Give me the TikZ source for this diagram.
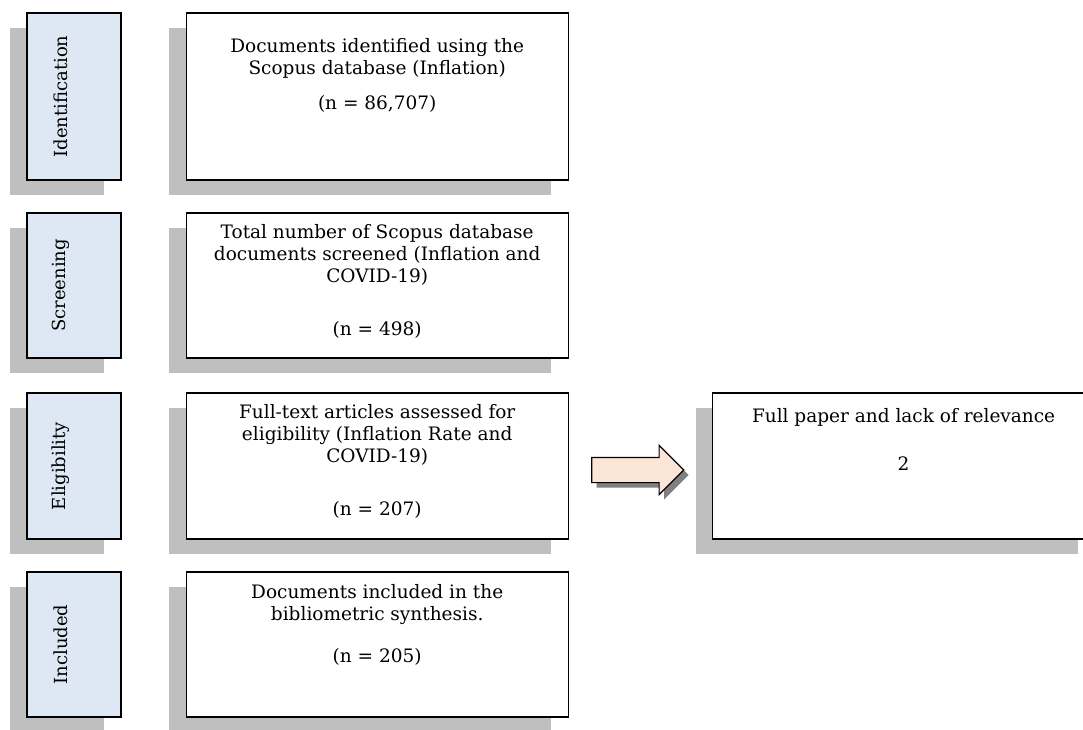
\documentclass[tikz,border=0pt]{standalone}
\usepackage{graphicx}
\usepackage{fontspec}
\setmainfont{DejaVu Serif}
\usepackage{tikz}
\usetikzlibrary{shapes.arrows,shadows,positioning,calc}
\definecolor{stageblue}{HTML}{DDE8F4}
\definecolor{shadowgray}{HTML}{BFBFBF}
\definecolor{arrowpeach}{HTML}{FBE5D6}
\definecolor{arrowshadow}{HTML}{808080}
\newcommand{\stagename}[1]{\rotatebox{90}{#1}\hspace*{26pt}}

\begin{document}
\begin{tikzpicture}[
            x=1pt, y=-1pt,
            stage/.style={rectangle, draw, line width=1.2pt, fill=stageblue, minimum width=94pt, inner sep=0pt, font=\fontsize{18}{22}\selectfont, drop shadow={shadow xshift=-17pt, shadow yshift=-15pt, fill=shadowgray, opacity=1}},
            mainbox/.style={rectangle, draw, line width=1.2pt, fill=white, minimum width=382pt, inner sep=0pt, drop shadow={shadow xshift=-17pt, shadow yshift=-15pt, fill=shadowgray, opacity=1}},
            boxtext/.style={align=center, inner sep=0pt, font=\fontsize{18.5}{22}\selectfont},
            blockarrow/.style={single arrow, draw, line width=1.2pt, fill=arrowpeach, minimum height=92pt, inner xsep=0pt, inner ysep=12pt, single arrow head extend=12pt, drop shadow={shadow xshift=5pt, shadow yshift=-5pt, fill=arrowshadow, opacity=1}}
        ]
            \useasboundingbox (0,0) rectangle (1083,729);

            % stages on the left
            \node[stage, minimum height=167pt] (ident) at (74,96.5) {\stagename{Identification}};
            \node[stage, minimum height=145pt] (screen) at (74,285.5) {\stagename{Screening}};
            \node[stage, minimum height=146pt] (elig) at (74,466) {\stagename{Eligibility}};
            \node[stage, minimum height=145pt] (incl) at (74,644.5) {\stagename{Included}};

            % boxes of each stage
            \node[mainbox, minimum height=167pt, right=64pt of ident] (identbox) {};
            \node[mainbox, minimum height=145pt, right=64pt of screen] (screenbox) {};
            \node[mainbox, minimum height=146pt, right=64pt of elig] (eligbox) {};
            \node[mainbox, minimum height=145pt, right=64pt of incl] (inclbox) {};
            \node[mainbox, minimum height=146pt, anchor=west] (fullpaper) at (712,466) {};

            \node[boxtext, below=26pt of identbox.north] (identtext) {Documents identified using the\\Scopus database (Inflation)\\[13pt](n = 86,707)};
            \node[boxtext, below=12pt of screenbox.north] (screentext) {Total number of Scopus database\\documents screened (Inflation and\\COVID-19)\\[31pt](n = 498)};
            \node[boxtext, below=12pt of eligbox.north] (eligtext) {Full-text articles assessed for\\eligibility (Inflation Rate and\\COVID-19)\\[31pt](n = 207)};
            \node[boxtext, below=13pt of inclbox.north] (incltext) {Documents included in the\\bibliometric synthesis.\\[20pt](n = 205)};
            \node[boxtext, below=16pt of fullpaper.north] (fulltext) {Full paper and lack of relevance\\[26pt]2};

            % excluded papers
            \node[blockarrow, xshift=-9pt, yshift=-4pt] (excl) at ($(eligbox.east)!0.5!(fullpaper.west)$) {};
        \end{tikzpicture}
\end{document}
